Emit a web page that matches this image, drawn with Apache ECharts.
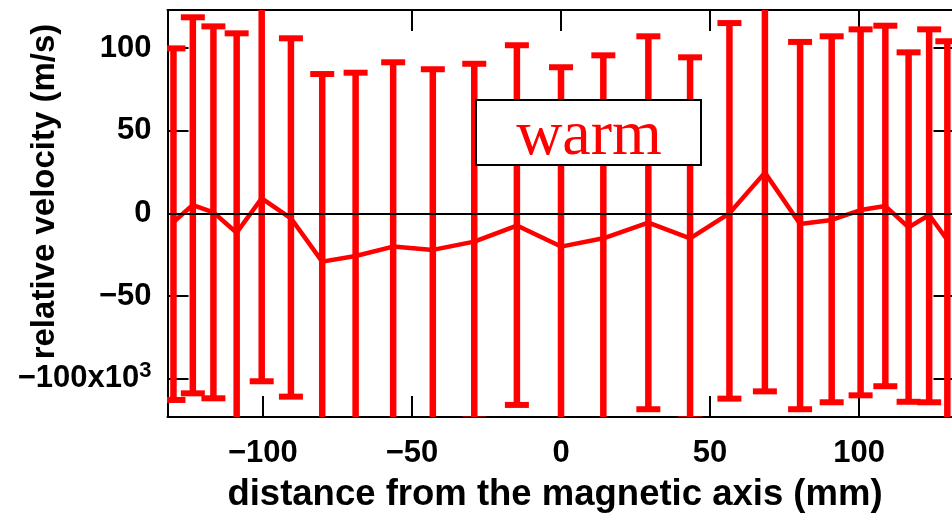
<!DOCTYPE html>
<html><head><meta charset="utf-8">
<script src="https://cdn.jsdelivr.net/npm/echarts@6/dist/echarts.min.js"></script>
<style>html,body{margin:0;padding:0;background:#fff}#c{width:952px;height:513px}</style>
</head><body><div id="c"></div>
<script>
// distance from magnetic axis (mm)
const positions = [-130.0, -123.5, -116.6, -108.8, -100.4, -90.6, -80.1, -68.9, -56.3, -43.0, -29.1, -14.8, 0.0, 14.2, 29.3, 43.3, 56.5, 68.4, 80.2, 90.8, 100.5, 108.8, 116.6, 123.5, 129.6];
// relative velocity (x10^3 m/s)
const velocity = [-5.1, 5.1, 0.7, -11.6, 9.2, -2.9, -29.1, -25.7, -20.0, -22.0, -17.0, -7.3, -20.0, -15.0, -5.5, -15.0, 0.1, 24.7, -6.3, -3.9, 2.1, 4.5, -8.4, -0.9, -16.0];
const errUpper = [99.8, 118.6, 113.1, 108.9, 128.0, 105.9, 84.3, 85.1, 91.4, 87.2, 90.5, 101.7, 88.4, 95.6, 107.1, 94.4, 115.1, 156.9, 103.7, 107.1, 111.3, 113.5, 97.4, 111.3, 104.1];
const errLower = [-112.7, -108.7, -111.7, -132.1, -101.4, -110.7, -142.5, -136.5, -131.4, -131.2, -124.5, -115.7, -128.4, -125.6, -118.3, -124.4, -111.9, -107.5, -118.3, -114.1, -109.9, -104.4, -113.8, -114.1, -136.1];
const xTicks = [-100, -50, 0, 50, 100];
const yTicks = [-100, -50, 0, 50, 100];
const xName = 'distance from the magnetic axis (mm)';
const yName = 'relative velocity (m/s)';
const annotation = 'warm';

const RED = '#ff0000';
const FONT = '"Liberation Sans", Arial, sans-serif';
const chart = echarts.init(document.getElementById('c'));

const axisLineStyle = {color: '#000', width: 2};
const tickStyle = {color: '#000', width: 2};
const fmt = v => (v < 0 ? '\u2212' + Math.abs(v) : String(v));

chart.setOption({
  animation: false,
  backgroundColor: '#fff',
  grid: {left: 167.5, top: 10, width: 787, height: 407, containLabel: false, outerBoundsMode: 'none'},
  xAxis: [{
    type: 'value', min: -132, max: 132, position: 'bottom',
    axisLine: {show: true, onZero: false, lineStyle: axisLineStyle},
    axisTick: {show: true, inside: true, length: 21, customValues: xTicks, lineStyle: tickStyle},
    axisLabel: {customValues: xTicks, margin: 21, color: '#000', fontSize: 31, fontWeight: 'bold', fontFamily: FONT, formatter: fmt},
    splitLine: {show: false},
    name: xName, nameLocation: 'middle', nameGap: 59, nameMoveOverlap: false,
    nameTextStyle: {color: '#000', fontSize: 36.5, fontWeight: 'bold', fontFamily: FONT, padding: [0, 12, 0, 0]}
  }, {
    type: 'value', min: -132, max: 132, position: 'top',
    axisLine: {show: true, onZero: false, lineStyle: axisLineStyle},
    axisTick: {show: true, inside: true, length: 21, customValues: xTicks, lineStyle: tickStyle},
    axisLabel: {show: false}, splitLine: {show: false}
  }],
  yAxis: [{
    type: 'value', min: -123, max: 123, position: 'left',
    axisLine: {show: true, onZero: false, lineStyle: axisLineStyle},
    axisTick: {show: true, inside: true, length: 21, customValues: yTicks, lineStyle: tickStyle},
    axisLabel: {
      customValues: yTicks, margin: 16, color: '#000',
      formatter: function (v) { return v === -100 ? '{a|' + fmt(v) + 'x10}{s|3}' : '{a|' + fmt(v) + '}'; },
      rich: {
        a: {fontSize: 31, fontWeight: 'bold', fontFamily: FONT, color: '#000'},
        s: {fontSize: 22, fontWeight: 'bold', fontFamily: FONT, color: '#000', padding: [0, 0, 16, 0]}
      }
    },
    splitLine: {show: false},
    name: yName, nameLocation: 'middle', nameGap: 106, nameMoveOverlap: false,
    nameTextStyle: {color: '#000', fontSize: 33, fontWeight: 'bold', fontFamily: FONT, padding: [0, 0, 0, 44]}
  }, {
    type: 'value', min: -123, max: 123, position: 'right',
    axisLine: {show: true, onZero: false, lineStyle: axisLineStyle},
    axisTick: {show: true, inside: true, length: 21, customValues: yTicks, lineStyle: tickStyle},
    axisLabel: {show: false}, splitLine: {show: false}
  }],
  series: [{
    type: 'line', data: [], z: 1, silent: true,
    markLine: {
      silent: true, symbol: ['none', 'none'], animation: false,
      label: {show: false},
      lineStyle: {color: '#000', width: 2, type: 'solid'},
      data: [{yAxis: 0}]
    }
  }, {
    type: 'custom', z: 3, clip: true, silent: true,
    data: positions.map((x, i) => [x, errLower[i], errUpper[i]]),
    encode: {x: 0, y: [1, 2]},
    renderItem: function (params, api) {
      const x = api.value(0), lo = api.value(1), hi = api.value(2);
      const pLo = api.coord([x, lo]);
      const pHi = api.coord([x, hi]);
      const cw = 12;
      return {
        type: 'group',
        children: [
          {type: 'line', shape: {x1: pLo[0], y1: pLo[1], x2: pHi[0], y2: pHi[1]}, style: {stroke: RED, lineWidth: 6.5}},
          {type: 'line', shape: {x1: pHi[0] - cw, y1: pHi[1], x2: pHi[0] + cw, y2: pHi[1]}, style: {stroke: RED, lineWidth: 6}},
          {type: 'line', shape: {x1: pLo[0] - cw, y1: pLo[1], x2: pLo[0] + cw, y2: pLo[1]}, style: {stroke: RED, lineWidth: 6}}
        ]
      };
    }
  }, {
    type: 'line', z: 4, silent: true,
    data: positions.map((x, i) => [x, velocity[i]]),
    symbol: 'none',
    lineStyle: {color: RED, width: 4.5}
  }],
  graphic: [{
    type: 'group', z: 100,
    children: [{
      type: 'rect', shape: {x: 476, y: 100, width: 225, height: 65},
      style: {fill: '#fff', stroke: '#000', lineWidth: 2}, z: 100
    }, {
      type: 'text', x: 589, y: 137, z: 101,
      style: {text: annotation, fill: RED, font: '64px "Liberation Serif", "Times New Roman", serif', align: 'center', verticalAlign: 'middle'}
    }]
  }]
});
</script></body></html>
